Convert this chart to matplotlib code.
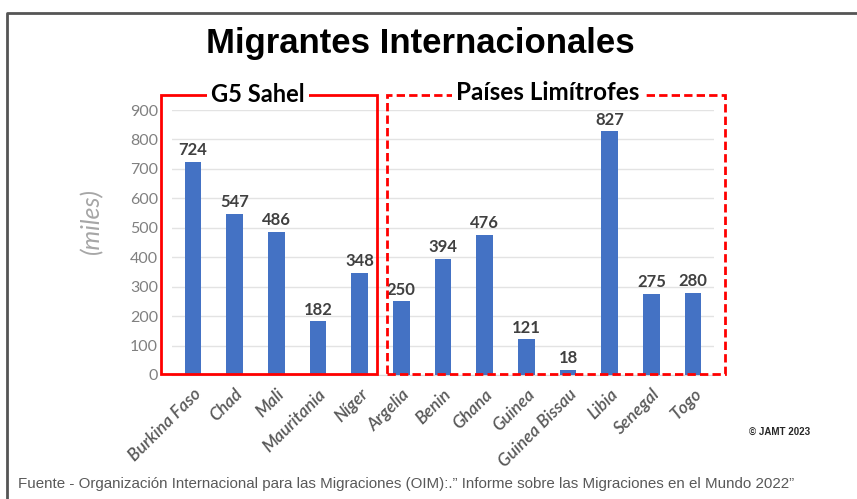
import matplotlib.pyplot as plt
from matplotlib.patches import Rectangle
from matplotlib.lines import Line2D

# Data (miles de migrantes)
paises = ["Burkina Faso", "Chad", "Mali", "Mauritania", "Níger",
          "Argelia", "Benin", "Ghana", "Guinea", "Guinea Bissau",
          "Libia", "Senegal", "Togo"]
migrantes = [724, 547, 486, 182, 348, 250, 394, 476, 121, 18, 827, 275, 280]
y_ticks = [0, 100, 200, 300, 400, 500, 600, 700, 800, 900]

W, H = 857, 499
fig = plt.figure(figsize=(W / 100, H / 100), dpi=100)


def fx(px):
    return px / W


def fy(py):
    return 1 - py / H


ax = fig.add_axes([fx(172), fy(375), fx(714) - fx(172), fy(110) - fy(375)])

x = range(len(paises))
ax.bar(x, migrantes, width=0.4, color="#4472c4", zorder=3)
for xi, v in zip(x, migrantes):
    ax.text(xi, v + 12, str(v), ha="center", va="bottom", fontsize=12,
            fontweight="bold", color="#404040", family="Lato", zorder=4)

ax.set_xlim(-0.5, len(paises) - 0.5)
ax.set_ylim(0, 900)
ax.set_yticks(y_ticks)
ax.set_yticklabels([str(t) for t in y_ticks], fontsize=11.5, color="#808080", family="Lato")
ax.set_xticks(list(x))
ax.set_xticklabels(paises, rotation=45, ha="right", rotation_mode="anchor",
                   fontsize=12.5, color="#595959", style="italic", fontweight="semibold",
                   family="Lato")
ax.tick_params(axis="both", length=0)
ax.tick_params(axis="y", pad=10)
ax.tick_params(axis="x", pad=8)
ax.grid(axis="y", color="#e3e3e3", linewidth=1, zorder=0)
for s in ["top", "right", "left"]:
    ax.spines[s].set_visible(False)
ax.spines["bottom"].set_color("#d9d9d9")
ax.set_ylabel("(miles)", fontsize=18, color="#a6a6a6", style="italic",
              family="Lato", va="center")
ax.yaxis.set_label_coords(-0.148, 0.58)

# Group boxes
fig.add_artist(Rectangle((fx(161), fy(374)), fx(377) - fx(161), fy(95) - fy(374),
                         transform=fig.transFigure, fill=False, edgecolor="#ff0000",
                         linewidth=2, zorder=5))
fig.add_artist(Rectangle((fx(387), fy(374)), fx(725) - fx(387), fy(95) - fy(374),
                         transform=fig.transFigure, fill=False, edgecolor="#ff0000",
                         linewidth=2, linestyle=(0, (3, 1.5)), zorder=5))
fig.text(fx(258), fy(94), "G5 Sahel", ha="center", va="center", fontsize=17,
         fontweight="bold", family="Lato", color="black", zorder=6,
         bbox=dict(facecolor="white", edgecolor="none", pad=3))
fig.text(fx(548), fy(92), "Países Limítrofes", ha="center", va="center", fontsize=17.5,
         fontweight="bold", family="Lato", color="black", zorder=6,
         bbox=dict(facecolor="white", edgecolor="none", pad=3))

# Title and notes
fig.text(fx(420), fy(44), "Migrantes Internacionales", ha="center", va="center",
         fontsize=25, fontweight="bold", family="Liberation Sans", color="black")
fig.text(fx(810), fy(432), "© JAMT 2023", ha="right", va="center", fontsize=7,
         fontweight="bold", family="Liberation Sans", color="#262626")
fig.text(fx(18), fy(484), "Fuente - Organización Internacional para las Migraciones (OIM):.\u201d "
         "Informe sobre las Migraciones en el Mundo 2022\u201d",
         ha="left", va="center", fontsize=10.9, family="Liberation Sans", color="#595959")

# Outer frame (left and top edges)
fig.add_artist(Line2D([fx(7), fx(7), fx(857)], [0, fy(13), fy(13)],
                      transform=fig.transFigure, color="#555555", linewidth=2))

fig.savefig("out.png", dpi=100, facecolor="white")
